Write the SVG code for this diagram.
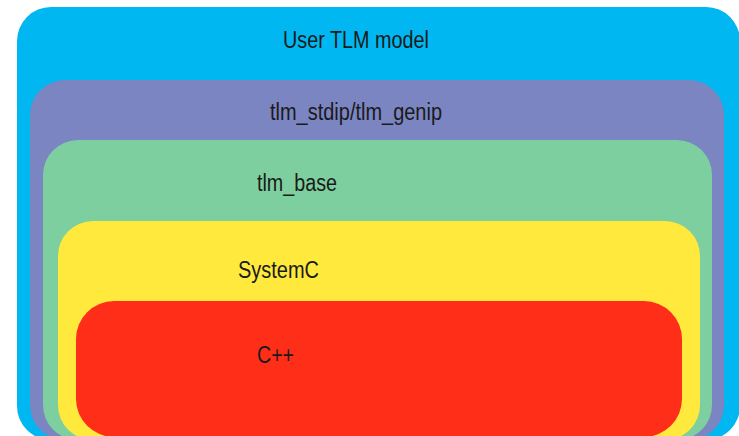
<svg xmlns="http://www.w3.org/2000/svg" width="739" height="436" viewBox="0 0 739 436">
<style>
text{font-family:"Liberation Sans",Arial,sans-serif;font-size:23px;fill:#1a1a1a}
</style>
<rect width="739" height="436" fill="#ffffff"/>
<g id="user-tlm-model">
<rect x="17" y="7" width="723" height="433" rx="34" fill="#00b7f1"/>
<text x="283" y="48" textLength="146" lengthAdjust="spacingAndGlyphs">User TLM model</text>
</g>
<g id="tlm-stdip-genip">
<rect x="30" y="80" width="694" height="360" rx="35" fill="#7a85c2"/>
<text x="270" y="120" textLength="172" lengthAdjust="spacingAndGlyphs">tlm_stdip/tlm_genip</text>
</g>
<g id="tlm-base">
<rect x="43" y="140" width="669" height="300" rx="35" fill="#7ecf9f"/>
<text x="257" y="191" textLength="80" lengthAdjust="spacingAndGlyphs">tlm_base</text>
</g>
<g id="systemc">
<rect x="58" y="221" width="642" height="219" rx="35" fill="#ffe93d"/>
<text x="238" y="278" textLength="81" lengthAdjust="spacingAndGlyphs">SystemC</text>
</g>
<g id="cpp">
<rect x="76" y="301" width="606" height="136" rx="38" fill="#ff2e18"/>
<text x="257" y="363" textLength="37" lengthAdjust="spacingAndGlyphs">C++</text>
</g>
<g id="connectors"/>
</svg>
